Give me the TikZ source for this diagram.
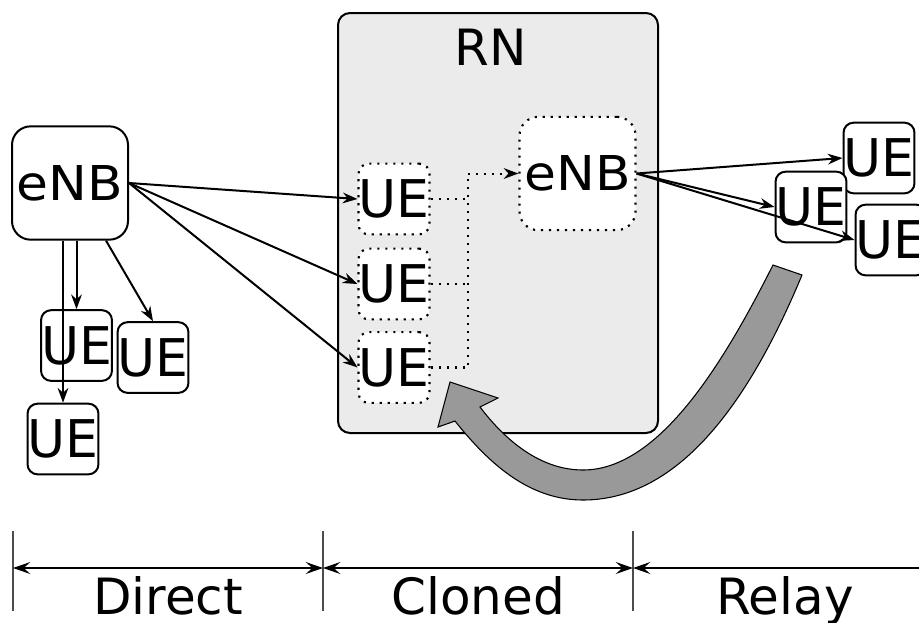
\documentclass[tikz,border=0pt]{standalone}
\usepackage{fontspec}
\setmainfont{DejaVu Sans}
\usetikzlibrary{arrows.meta}

\definecolor{rnfill}{RGB}{235,235,235}
\definecolor{turnfill}{RGB}{153,153,153}

\begin{document}
\begin{tikzpicture}[x=0.75pt,y=0.75pt,yscale=-1,xscale=1,
  uebox/.style={draw,line width=1.5pt,rounded corners=7.5pt,fill=white,inner sep=0pt,
    minimum width=53pt,minimum height=53pt,font=\fontsize{39}{40}\selectfont},
  enbbox/.style={draw,line width=1.5pt,rounded corners=14pt,fill=white,inner sep=0pt,
    minimum width=87pt,minimum height=85pt,font=\fontsize{36}{38}\selectfont},
  clone/.style={dash pattern=on 1.6pt off 4.4pt},
  link/.style={line width=1.5pt,-{Stealth[length=11pt,width=8pt,inset=3.5pt]}},
  cut/.style={line width=1.6pt,clone},
  span/.style={line width=1pt,{Stealth[length=13pt,width=9pt,inset=5pt]}-{Stealth[length=13pt,width=9pt,inset=5pt]}},
  label/.style={anchor=base,font=\fontsize{37.5}{40}\selectfont}]
\useasboundingbox (0,0) rectangle (919,622);
\clip (0,0) rectangle (919,622);

%Relay node frame
\node (rn) at (498,223) [draw,line width=1.5pt,rounded corners=9pt,fill=rnfill,
  minimum width=240pt,minimum height=315pt] {};
\node (rnlabel) at (491,47) [font=\fontsize{37.5}{40}\selectfont] {RN};

%Direct side
\node (enbL) at (70,183) [enbbox] {\scalebox{1.08}[1]{eNB}};
\node (ueD1) at (76.5,345.5) [uebox] {UE};
\node (ueD2) at (153,357.5) [uebox] {UE};
\node (ueD3) at (63,439) [uebox] {UE};

%Cloned side
\node (ueC1) at (394,199) [uebox,clone,line width=1.6pt] {UE};
\node (ueC2) at (394,284) [uebox,clone,line width=1.6pt] {UE};
\node (ueC3) at (394,367.5) [uebox,clone,line width=1.6pt] {UE};
\node (enbR) at (577.5,173.5) [enbbox,clone,line width=1.6pt] {\scalebox{1.08}[1]{eNB}};

%Relay side
\node (ueR1) at (879,158) [uebox] {UE};
\node (ueR3) at (891,240) [uebox] {UE};
\node (ueR2) at (811,207) [uebox] {UE};

%Direct links
\draw[link] (ueD1.north |- enbL.south) -- (ueD1.north);
\draw[link] (ueD3.north |- enbL.south) -- (ueD3.north);
\draw[link] (enbL.-58) -- (ueD2.north);
\draw[link] (enbL.east) -- (ueC1.west);
\draw[link] (enbL.east) -- (ueC2.west);
\draw[link] (enbL.east) -- (ueC3.west);

%cloned UEs into the relay eNB
\coordinate (bus) at (468,173.5);
\draw[cut] (ueC1.east) -- (ueC1.east -| bus);
\draw[cut] (ueC2.east) -- (ueC2.east -| bus);
\draw[cut] (ueC3.east) -| (bus);
\draw[link,clone] (bus) -- (enbR.west);

%Relay links
\draw[link] (enbR.east) -- (ueR1.west);
\draw[link] (enbR.east) -- (ueR2.west);
\draw[link] (enbR.east) -- (ueR3.west);

%Turn-back arrow
\draw[fill=turnfill,line width=0.8pt,line join=miter]
  (455,421) .. controls (490,465) and (530,500) .. (583,500)
  .. controls (680,500) and (750,400) .. (802,275)
  -- (773,265)
  .. controls (725,360) and (660,470) .. (583,470)
  .. controls (540,470) and (505,440) .. (480,407)
  -- (498,398) -- (450,382) -- (438,427) -- cycle;

%Ruler
\coordinate (t0) at (13,568);
\coordinate (t1) at (323,568);
\coordinate (t2) at (633,568);
\coordinate (t3) at (919,568);
\foreach \t in {t0,t1,t2}
  \draw[line width=0.9pt,black!70] ([yshift=-28]\t) -- ([yshift=32]\t);
\draw[span] (t0) -- (t1);
\draw[span] (t1) -- (t2);
\draw[line width=1pt,{Stealth[length=13pt,width=9pt,inset=5pt]}-] (t2) -- (t3);

% Text Node
\node (direct) at (168,614) [label] {Direct};
% Text Node
\node (cloned) at (478,614) [label] {Cloned};
% Text Node
\node (relay) at (785,614) [label] {Relay};

\end{tikzpicture}
\end{document}
